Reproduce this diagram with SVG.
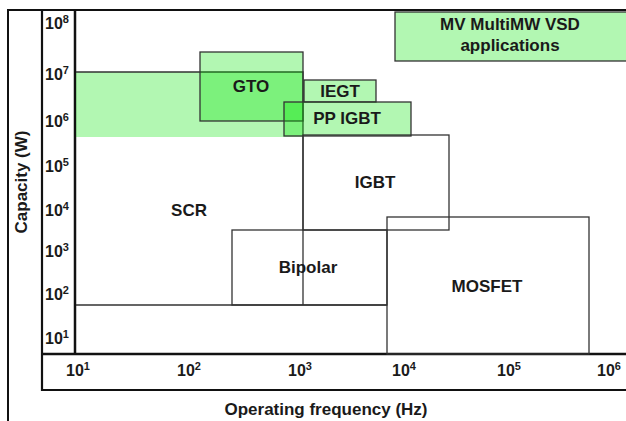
<svg xmlns="http://www.w3.org/2000/svg" width="626" height="421" viewBox="0 0 626 421">
<style>
text{font-family:"Liberation Sans",Arial,sans-serif;font-weight:bold;fill:#1a1a1a}
.lbl{font-size:17px;text-anchor:middle}
.tick{font-size:16px}
.sup{font-size:11px}
.g{fill:#00e600;fill-opacity:0.3;stroke:#333;stroke-width:1.3}
.box{fill:none;stroke:#333;stroke-width:1.3}
.ax{stroke:#111;fill:none}
</style>
<rect width="626" height="421" fill="#fff"/>
<g id="frame">
<path class="ax" d="M8 421V10H626" stroke-width="2"/>
<path class="ax" d="M42 10V390H626" stroke-width="2.2"/>
<path class="ax" d="M75 10V354" stroke-width="2.5"/>
<path class="ax" d="M42 354H626" stroke-width="2.5"/>
</g>
<g id="ticks-y" class="tick">
<text x="45" y="29">10<tspan class="sup" dy="-6">8</tspan></text>
<text x="45" y="80">10<tspan class="sup" dy="-6">7</tspan></text>
<text x="45" y="127">10<tspan class="sup" dy="-6">6</tspan></text>
<text x="45" y="172">10<tspan class="sup" dy="-6">5</tspan></text>
<text x="45" y="216">10<tspan class="sup" dy="-6">4</tspan></text>
<text x="45" y="257">10<tspan class="sup" dy="-6">3</tspan></text>
<text x="45" y="300">10<tspan class="sup" dy="-6">2</tspan></text>
<text x="45" y="344">10<tspan class="sup" dy="-6">1</tspan></text>
</g>
<g id="ticks-x" class="tick">
<text x="66" y="376">10<tspan class="sup" dy="-6">1</tspan></text>
<text x="177" y="376">10<tspan class="sup" dy="-6">2</tspan></text>
<text x="288" y="376">10<tspan class="sup" dy="-6">3</tspan></text>
<text x="392" y="376">10<tspan class="sup" dy="-6">4</tspan></text>
<text x="497" y="376">10<tspan class="sup" dy="-6">5</tspan></text>
<text x="597" y="376">10<tspan class="sup" dy="-6">6</tspan></text>
</g>
<g id="axis-titles">
<text class="lbl" transform="translate(27,182) rotate(-90)">Capacity (W)</text>
<text class="lbl" x="326" y="415">Operating frequency (Hz)</text>
</g>
<g id="SCR">
<rect x="76" y="72" width="227" height="65" fill="#00e600" fill-opacity="0.3"/>
<path class="box" d="M76 72H303V305M76 305H387" stroke-width="1.2"/>
<text class="lbl" x="189" y="216">SCR</text>
</g>
<g id="GTO">
<rect class="g" x="200" y="52" width="103" height="69"/>
<text class="lbl" x="251" y="92">GTO</text>
</g>
<g id="IEGT">
<rect class="g" x="304" y="80" width="72" height="22"/>
<text class="lbl" x="340" y="97">IEGT</text>
</g>
<g id="PPIGBT">
<rect class="g" x="284" y="102" width="127" height="34"/>
<text class="lbl" x="347" y="124">PP IGBT</text>
</g>
<g id="IGBT">
<rect class="box" x="303" y="135" width="146" height="95"/>
<text class="lbl" x="375" y="188">IGBT</text>
</g>
<g id="Bipolar">
<rect class="box" x="232" y="230" width="155" height="75"/>
<text class="lbl" x="308" y="273">Bipolar</text>
</g>
<g id="MOSFET">
<rect class="box" x="387" y="217" width="202" height="137"/>
<text class="lbl" x="487" y="292">MOSFET</text>
</g>
<g id="MV">
<rect class="g" x="395" y="12" width="240" height="49"/>
<text class="lbl" x="510" y="30">MV MultiMW VSD</text>
<text class="lbl" x="510" y="51">applications</text>
</g>
<g id="connectors"/>
</svg>
